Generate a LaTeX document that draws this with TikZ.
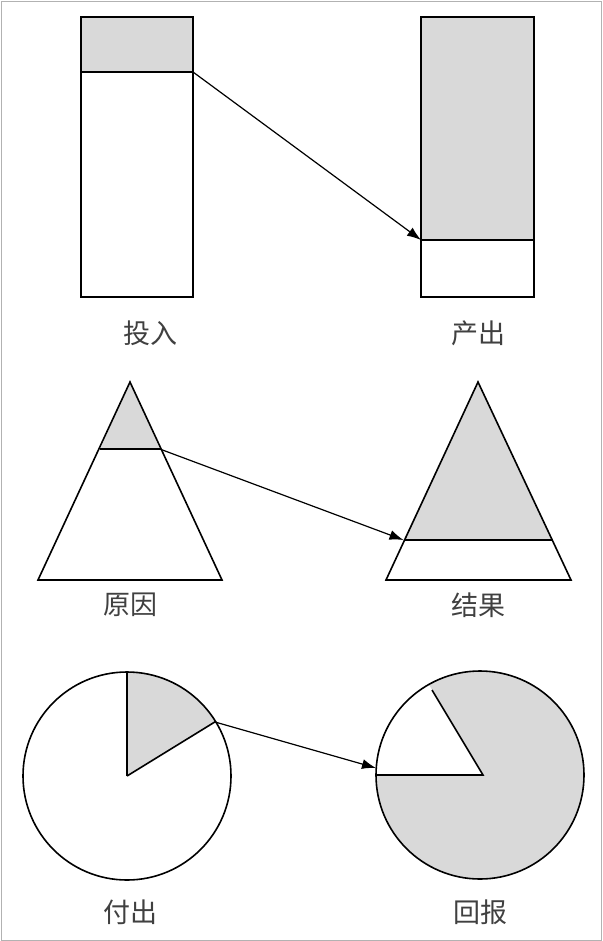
\documentclass[tikz,border=0pt]{standalone}
\usepackage{fontspec}
\usetikzlibrary{arrows.meta}
\newfontfamily\cjk{Noto Sans CJK SC}
\begin{document}
\begin{tikzpicture}[x=1pt,y=-1pt,line width=1.6pt,
  lbl/.style={font=\cjk\fontsize{27}{30}\selectfont,text=black!75},
  arr/.style={-{Latex[length=14pt,width=10pt]},line width=1.2pt},
  sh/.style={fill=black!15}]
\useasboundingbox (0,0) rectangle (602,941);
\draw[black!30,line width=0.8pt] (1,1) rectangle (601,940);
% rectangles
\fill[sh] (81,17) rectangle (193,72);
\draw (81,17) rectangle (193,297);
\draw (81,72) -- (193,72);
\fill[sh] (421,17) rectangle (534,240);
\draw (421,17) rectangle (534,297);
\draw (421,240) -- (534,240);
\coordinate (a1) at (193,72); \coordinate (a2) at (421,240);
\draw[arr] (a1) -- (a2);
\node[lbl] (t1) at (150,333) {投入};
\node[lbl] (t2) at (478,333) {产出};
% triangles
\fill[sh] (130,382) -- (100.2,449) -- (159.8,449) -- cycle;
\draw (130,382) -- (38,580) -- (222,580) -- cycle;
\draw (100.2,449) -- (159.8,449);
\fill[sh] (478,382) -- (403.5,540) -- (552.5,540) -- cycle;
\draw (478,382) -- (386,580) -- (571,580) -- cycle;
\draw (403.5,540) -- (552.5,540);
\coordinate (b1) at (159.8,449); \coordinate (b2) at (403.5,540);
\draw[arr] (b1) -- (b2);
\node[lbl] (t3) at (130,605) {原因};
\node[lbl] (t4) at (478,605) {结果};
% circles
\fill[sh] (127,776) -- ++(-31.6:104) arc[start angle=-31.6,end angle=-90,radius=104] -- cycle;
\draw (127,776) circle[radius=104];
\draw (127,776) -- ++(-31.6:104);
\draw (127,776) -- ++(-90:104);
\fill[sh] (480,775) circle[radius=104];
\begin{scope}
\clip (480,775) circle[radius=104];
\fill[white] (483,775) -- (381,605) -- (300,605) -- (300,775) -- cycle;
\end{scope}
\draw (480,775) circle[radius=104];
\draw (376,775) -- (483,775) -- (432,690);
\coordinate (c1) at (215,722); \coordinate (c2) at (376,768);
\draw[arr] (c1) -- (c2);
\node[lbl] (t5) at (130,912) {付出};
\node[lbl] (t6) at (480,912) {回报};
\end{tikzpicture}
\end{document}
